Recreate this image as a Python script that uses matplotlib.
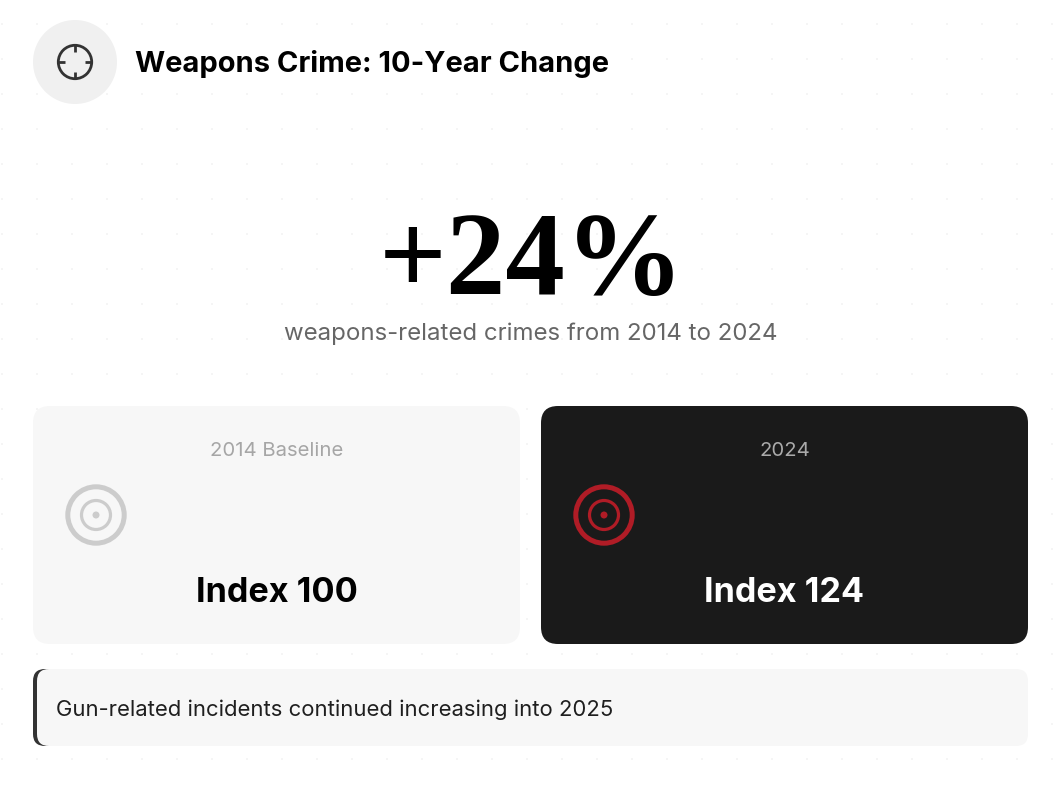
import matplotlib
matplotlib.use("Agg")
import matplotlib.pyplot as plt
from matplotlib.patches import Circle, FancyBboxPatch

W, H = 1059, 786
title = "Weapons Crime: 10-Year Change"
headline = "+24%"
subtitle = "weapons-related crimes from 2014 to 2024"
card_labels = ["2014 Baseline", "2024"]
card_values = [100, 124]
note = "Gun-related incidents continued increasing into 2025"

fig = plt.figure(figsize=(W / 100, H / 100), dpi=100, facecolor="white")
ax = fig.add_axes([0, 0, 1, 1])
ax.set_xlim(0, W)
ax.set_ylim(H, 0)
ax.axis("off")
PX = 0.72
SANS = "Inter"

# dotted background
xs, ys = [], []
for gy in range(23, H, 35):
    for gx in range(1, W, 35):
        xs.append(gx + .5)
        ys.append(gy + .5)
ax.scatter(xs, ys, s=4.5, marker="s", color="#f5f5f5", linewidths=0, zorder=0)


def rrect(x0, y0, x1, y1, r, color, z=1):
    p = FancyBboxPatch((x0, y0), x1 - x0, y1 - y0,
                       boxstyle=f"round,pad=0,rounding_size={r}",
                       fc=color, ec="none", zorder=z)
    ax.add_patch(p)


def ring(cx, cy, r, lw, color, z=3):
    ax.add_patch(Circle((cx, cy), r, fc="none", ec=color, lw=lw * PX, zorder=z))


# header icon
ax.add_patch(Circle((75, 62), 42, fc="#f0f0f0", ec="none", zorder=1))
ring(75, 62, 16.7, 2.8, "#333333")
for (a, b, c, d) in [(75, 45, 75, 52), (75, 72, 75, 79),
                     (58, 62, 65, 62), (85, 62, 92, 62)]:
    ax.plot([a, c], [b, d], color="#333333", lw=2.8 * PX, zorder=3,
            solid_capstyle="butt")
ax.text(135, 72, title, fontsize=29.1 * PX, fontfamily=SANS, fontweight="bold",
        color="#000000", ha="left", va="baseline", zorder=5)

# headline
ax.text(532, 294, headline, fontsize=119 * PX, fontfamily="Liberation Serif",
        fontweight="bold", color="#000000", ha="center", va="baseline", zorder=5)
ax.text(531, 340, subtitle, fontsize=24 * PX, fontfamily=SANS, color="#666666",
        ha="center", va="baseline", zorder=5)

# cards
cards = [(33, 520, "#f7f7f7", "#a6a6a6", "#000000", "#cccccc", 96),
         (541, 1028, "#1a1a1a", "#aaaaaa", "#ffffff", "#b01c26", 604)]
for (x0, x1, bg, lab, fg, ic, cx), label, val in zip(cards, card_labels, card_values):
    rrect(x0, 406, x1, 644, 17, bg)
    mid = (x0 + x1) / 2
    ax.text(mid, 456, label, fontsize=20.3 * PX, fontfamily=SANS, color=lab,
            ha="center", va="baseline", zorder=5)
    ax.text(mid, 602.5, f"Index {val}", fontsize=34.2 * PX, fontfamily=SANS,
            fontweight="bold", color=fg, ha="center", va="baseline", zorder=5)
    ring(cx, 515, 28.2, 5, ic)
    ring(cx, 515, 14.5, 3.2, ic)
    ax.add_patch(Circle((cx, 515), 3.5, fc=ic, ec="none", zorder=3))

# note bar
rrect(33, 669, 70, 746, 12, "#333333", z=1)
rrect(37, 669, 1028, 746, 12, "#f7f7f7", z=2)
ax.text(56, 716, note, fontsize=22.05 * PX, fontfamily=SANS, color="#1f1f1f",
        ha="left", va="baseline", zorder=5)

fig.savefig("out.png", dpi=100, facecolor="white")
